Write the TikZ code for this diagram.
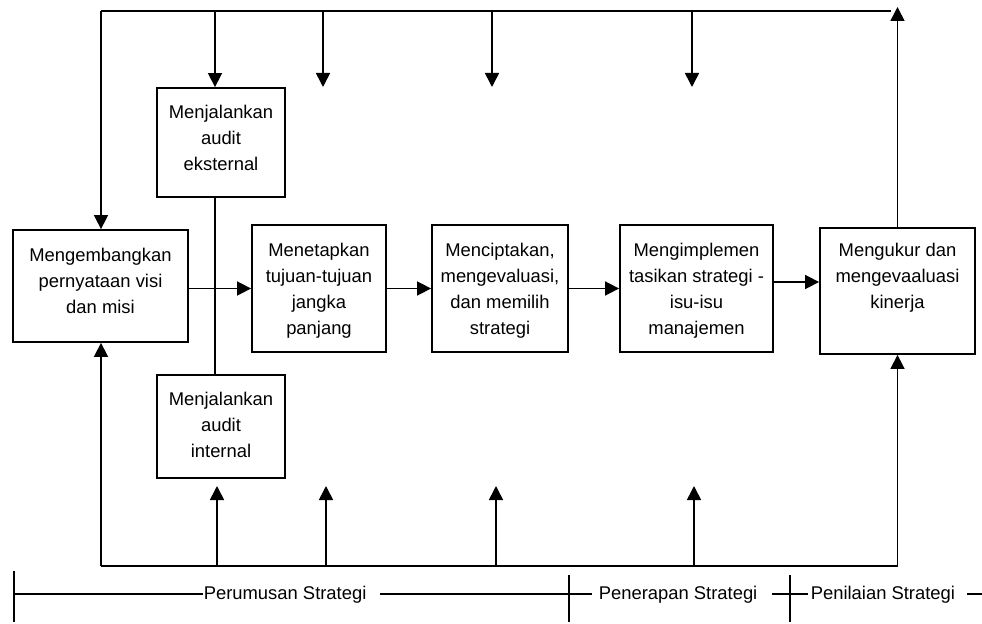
\documentclass[tikz,border=0pt]{standalone}
\usepackage{fontspec}
\setmainfont{Liberation Sans}
\usetikzlibrary{arrows.meta,calc}
\begin{document}
\begin{tikzpicture}[x=1bp,y=-1bp,
  line width=1.6bp,
  every node/.style={font=\fontsize{18.4bp}{26bp}\selectfont},
  stagebox/.style={draw,line width=1.8bp,inner sep=0pt},
  boxtext/.style={align=center,inner sep=0pt,anchor=base},
  axtext/.style={inner sep=0pt,anchor=base west},
  arr/.style={-{Triangle[width=14bp,length=14bp]}},
  axis/.style={line width=1.2bp}]
\useasboundingbox (0,0) rectangle (982,624);

% process boxes
\node[stagebox,minimum width=175bp,minimum height=112bp] (dev) at (100.5,286) {};
\node[stagebox,minimum width=128bp,minimum height=109bp] (ext) at (221,142.5) {};
\node[stagebox,minimum width=128bp,minimum height=103bp] (int) at (221,426.5) {};
\node[stagebox,minimum width=134bp,minimum height=127bp] (tuj) at (319,288.5) {};
\node[stagebox,minimum width=136bp,minimum height=127bp] (cip) at (500,288.5) {};
\node[stagebox,minimum width=153bp,minimum height=127bp] (imp) at (696.5,288.5) {};
\node[stagebox,minimum width=155bp,minimum height=126bp] (ukr) at (897.5,291) {};

% box texts: the anchor is the baseline of the last line
\node[boxtext] (devtext) at ($(dev.north)+(0,84)$) {Mengembangkan\\pernyataan visi\\dan misi};
\node[boxtext] (exttext) at ($(ext.north)+(0,83)$) {Menjalankan\\audit\\eksternal};
\node[boxtext] (inttext) at ($(int.north)+(0,83)$) {Menjalankan\\audit\\internal};
\node[boxtext] (tujtext) at ($(tuj.north)+(0,110)$) {Menetapkan\\tujuan-tujuan\\jangka\\panjang};
\node[boxtext] (ciptext) at ($(cip.north)+(0,110)$) {Menciptakan,\\mengevaluasi,\\dan memilih\\strategi};
\node[boxtext] (imptext) at ($(imp.north)+(0,110)$) {Mengimplemen\\tasikan strategi -\\isu-isu\\manajemen};
\node[boxtext] (ukrtext) at ($(ukr.north)+(0,81)$) {Mengukur dan\\mengevaaluasi\\kinerja};

% feedback line along the top
\coordinate (tl) at (101,11);
\coordinate (tr) at (891,11);
\coordinate (t1) at (215,11);
\coordinate (t2) at (323,11);
\coordinate (t3) at (492,11);
\coordinate (t4) at (692,11);
\coordinate (d2) at (323,87);
\coordinate (d3) at (492,87);
\coordinate (d4) at (692,87);
\coordinate (up) at (897.5,7);
\draw (tl) -- (tr);
\draw[arr] (tl) -- (tl |- dev.north);
\draw[arr] (t1) -- (t1 |- ext.north);
\draw[arr] (t2) -- (d2);
\draw[arr] (t3) -- (d3);
\draw[arr] (t4) -- (d4);
\draw[arr] (ukr.north) -- (up);

% audit link and main flow
\draw (t1 |- ext.south) -- (t1 |- int.north);
\draw[arr] (dev.east |- tuj.west) -- (tuj.west);
\draw[arr] (tuj.east) -- (cip.west);
\draw[arr] (cip.east) -- (imp.west);
\coordinate (ie) at ([yshift=6.5bp]imp.east);
\draw[arr] (ie) -- (ie -| ukr.west);

% feedback line along the bottom
\coordinate (bl) at (101,566);
\coordinate (br) at (897.5,566);
\coordinate (b1) at (217,566);
\coordinate (b2) at (326,566);
\coordinate (b3) at (496,566);
\coordinate (b4) at (694,566);
\coordinate (u1) at (217,486);
\coordinate (u2) at (326,486);
\coordinate (u3) at (496,486);
\coordinate (u4) at (694,486);
\draw (bl) -- (br);
\draw[arr] (bl) -- (bl |- dev.south);
\draw[arr] (br) -- (ukr.south);
\draw[arr] (b1) -- (u1);
\draw[arr] (b2) -- (u2);
\draw[arr] (b3) -- (u3);
\draw[arr] (b4) -- (u4);

% stage axis
\node[axtext] (perumusan) at (203,599) {Perumusan Strategi};
\node[axtext] (penerapan) at (598,599) {Penerapan Strategi};
\node[axtext] (penilaian) at (810,599) {Penilaian Strategi};
\coordinate (a0) at (14,594);
\coordinate (a1) at (380,594);
\coordinate (a2) at (592,594);
\coordinate (a3) at (772,594);
\coordinate (a4) at (808,594);
\coordinate (a5) at (967,594);
\coordinate (a6) at (982,594);
\coordinate (k0t) at (14,571);
\coordinate (k0b) at (14,622);
\coordinate (k1t) at (569,575);
\coordinate (k1b) at (569,622);
\coordinate (k2t) at (790,575);
\coordinate (k2b) at (790,622);
\draw[axis] (a0) -- (a0 -| perumusan.west);
\draw[axis] (a1) -- (a2);
\draw[axis] (a3) -- (a4);
\draw[axis] (a5) -- (a6);
\draw[axis] (k0t) -- (k0b);
\draw[axis] (k1t) -- (k1b);
\draw[axis] (k2t) -- (k2b);
\end{tikzpicture}
\end{document}
